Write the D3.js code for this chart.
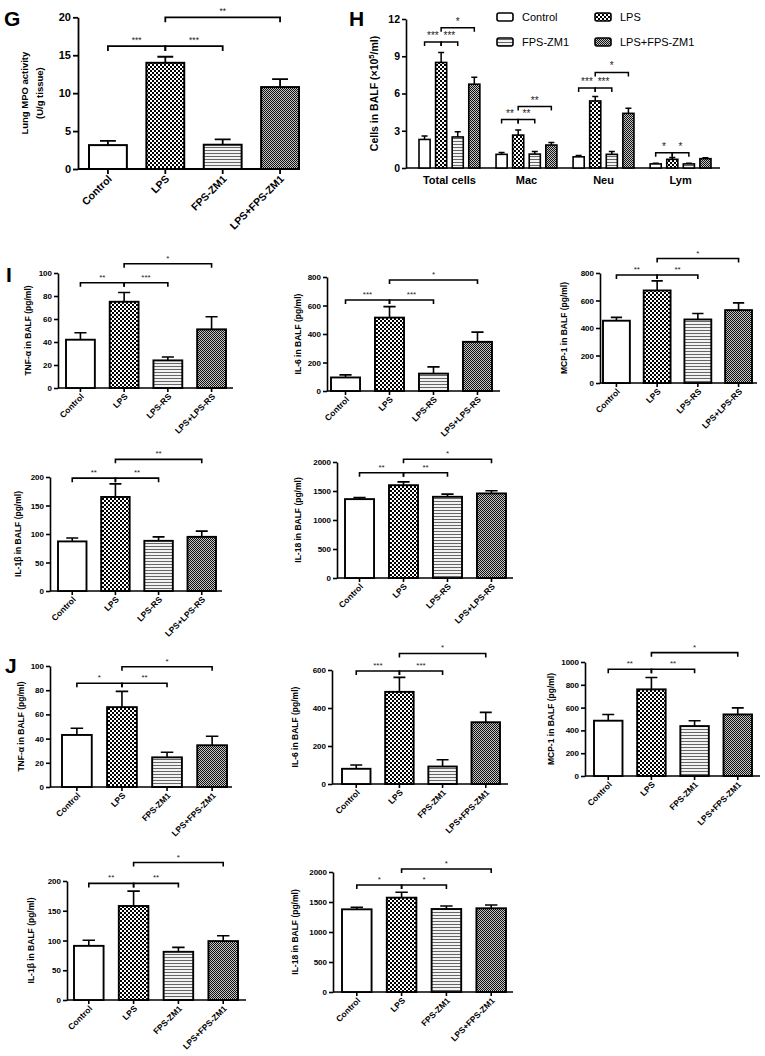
<!DOCTYPE html>
<html><head><meta charset="utf-8">
<script src="https://cdn.jsdelivr.net/npm/d3@7"></script>
<style>html,body{margin:0;padding:0;background:#fff}</style>
</head><body>
<svg id="chart" width="765" height="1056"></svg>
<script>
// ---------------- DATA ----------------
const groupsZM = ["Control", "LPS", "FPS-ZM1", "LPS+FPS-ZM1"];
const groupsRS = ["Control", "LPS", "LPS-RS", "LPS+LPS-RS"];

// G: Lung MPO activity
const mpoMean = [3.15, 14.0, 3.2, 10.8];
const mpoErr  = [0.55, 0.8, 0.7, 1.05];
const mpoSig  = [
  {from: "Control", to: "LPS", label: "***", level: 16.2},
  {from: "LPS", to: "FPS-ZM1", label: "***", level: 16.2},
  {from: "LPS", to: "LPS+FPS-ZM1", label: "**", level: 20}
];

// H: cells in BALF
const cellTypes = ["Total cells", "Mac", "Neu", "Lym"];
const cellControl    = [2.3, 1.1, 0.9, 0.33];
const cellControlErr = [0.28, 0.14, 0.1, 0.06];
const cellLPS        = [8.5, 2.65, 5.4, 0.7];
const cellLPSErr     = [0.8, 0.42, 0.36, 0.14];
const cellFPS        = [2.5, 1.12, 1.1, 0.33];
const cellFPSErr     = [0.42, 0.2, 0.22, 0.06];
const cellLPSFPS     = [6.75, 1.85, 4.4, 0.75];
const cellLPSFPSErr  = [0.55, 0.2, 0.42, 0.08];
const cellSig = [
  {group: "Total cells", from: "Control", to: "LPS", label: "***", level: 10.15},
  {group: "Total cells", from: "LPS", to: "FPS-ZM1", label: "***", level: 10.15},
  {group: "Total cells", from: "LPS", to: "LPS+FPS-ZM1", label: "*", level: 11.3},
  {group: "Mac", from: "Control", to: "LPS", label: "**", level: 3.9},
  {group: "Mac", from: "LPS", to: "FPS-ZM1", label: "**", level: 3.9},
  {group: "Mac", from: "LPS", to: "LPS+FPS-ZM1", label: "**", level: 4.95},
  {group: "Neu", from: "Control", to: "LPS", label: "***", level: 6.45},
  {group: "Neu", from: "LPS", to: "FPS-ZM1", label: "***", level: 6.45},
  {group: "Neu", from: "LPS", to: "LPS+FPS-ZM1", label: "*", level: 7.7},
  {group: "Lym", from: "Control", to: "LPS", label: "*", level: 1.22},
  {group: "Lym", from: "LPS", to: "FPS-ZM1", label: "*", level: 1.22}
];

// I: LPS-RS experiment
const tnfRSMean = [42, 75, 24, 51];
const tnfRSErr  = [6, 8, 3, 11];
const tnfRSSig  = [
  {from: "Control", to: "LPS", label: "**", level: 91.5},
  {from: "LPS", to: "LPS-RS", label: "***", level: 91.5},
  {from: "LPS", to: "LPS+LPS-RS", label: "*", level: 108}
];
const il6RSMean = [95, 515, 122, 345];
const il6RSErr  = [18, 77, 47, 68];
const il6RSSig  = [
  {from: "Control", to: "LPS", label: "***", level: 639},
  {from: "LPS", to: "LPS-RS", label: "***", level: 639},
  {from: "LPS", to: "LPS+LPS-RS", label: "*", level: 779}
];
const mcpRSMean = [453, 673, 462, 530];
const mcpRSErr  = [24, 70, 44, 53];
const mcpRSSig  = [
  {from: "Control", to: "LPS", label: "**", level: 785},
  {from: "LPS", to: "LPS-RS", label: "**", level: 785},
  {from: "LPS", to: "LPS+LPS-RS", label: "*", level: 905}
];
const il1bRSMean = [87, 165, 88, 95];
const il1bRSErr  = [6, 23, 7, 10];
const il1bRSSig  = [
  {from: "Control", to: "LPS", label: "**", level: 198},
  {from: "LPS", to: "LPS-RS", label: "**", level: 198},
  {from: "LPS", to: "LPS+LPS-RS", label: "**", level: 231}
];
const il18RSMean = [1360, 1600, 1400, 1458];
const il18RSErr  = [25, 58, 46, 46];
const il18RSSig  = [
  {from: "Control", to: "LPS", label: "**", level: 1815},
  {from: "LPS", to: "LPS-RS", label: "**", level: 1815},
  {from: "LPS", to: "LPS+LPS-RS", label: "*", level: 2047}
];

// J: FPS-ZM1 experiment
const tnfZMMean = [43, 66, 24.5, 34.5];
const tnfZMErr  = [5.5, 13, 4.2, 7.5];
const tnfZMSig  = [
  {from: "Control", to: "LPS", label: "*", level: 85.7},
  {from: "LPS", to: "FPS-ZM1", label: "**", level: 85.7},
  {from: "LPS", to: "LPS+FPS-ZM1", label: "*", level: 99.4}
];
const il6ZMMean = [80, 485, 92, 325];
const il6ZMErr  = [20, 76, 36, 52];
const il6ZMSig  = [
  {from: "Control", to: "LPS", label: "***", level: 595},
  {from: "LPS", to: "FPS-ZM1", label: "***", level: 595},
  {from: "LPS", to: "LPS+FPS-ZM1", label: "*", level: 687}
];
const mcpZMMean = [485, 760, 438, 540];
const mcpZMErr  = [55, 104, 46, 58];
const mcpZMSig  = [
  {from: "Control", to: "LPS", label: "**", level: 936},
  {from: "LPS", to: "FPS-ZM1", label: "**", level: 936},
  {from: "LPS", to: "LPS+FPS-ZM1", label: "*", level: 1082}
];
const il1bZMMean = [91, 158, 81, 99];
const il1bZMErr  = [9.5, 25, 7.4, 9];
const il1bZMSig  = [
  {from: "Control", to: "LPS", label: "**", level: 196},
  {from: "LPS", to: "FPS-ZM1", label: "**", level: 196},
  {from: "LPS", to: "LPS+FPS-ZM1", label: "*", level: 231}
];
const il18ZMMean = [1378, 1572, 1383, 1395];
const il18ZMErr  = [34, 90, 50, 55];
const il18ZMSig  = [
  {from: "Control", to: "LPS", label: "*", level: 1783},
  {from: "LPS", to: "FPS-ZM1", label: "*", level: 1783},
  {from: "LPS", to: "LPS+FPS-ZM1", label: "*", level: 2050}
];

// ---------------- DRAWING ----------------
const FONT = "'Liberation Sans', Arial, Helvetica, sans-serif";
const svg = d3.select("#chart");
svg.append("rect").attr("width", 765).attr("height", 1056).attr("fill", "#fff");

const defs = svg.append("defs");
const pChecker = defs.append("pattern").attr("id", "checker").attr("patternUnits", "userSpaceOnUse").attr("width", 4).attr("height", 4);
pChecker.append("rect").attr("width", 4).attr("height", 4).attr("fill", "#fff");
pChecker.append("rect").attr("width", 2).attr("height", 2).attr("fill", "#000");
pChecker.append("rect").attr("x", 2).attr("y", 2).attr("width", 2).attr("height", 2).attr("fill", "#000");
const pStripes = defs.append("pattern").attr("id", "stripes").attr("patternUnits", "userSpaceOnUse").attr("width", 4).attr("height", 3);
pStripes.append("rect").attr("width", 4).attr("height", 3).attr("fill", "#f2f2f2");
pStripes.append("rect").attr("width", 4).attr("height", 1).attr("fill", "#666");
const pFine = defs.append("pattern").attr("id", "fine").attr("patternUnits", "userSpaceOnUse").attr("width", 2).attr("height", 2);
pFine.append("rect").attr("width", 2).attr("height", 2).attr("fill", "#c4c4c4");
pFine.append("rect").attr("width", 1).attr("height", 1).attr("fill", "#111");
pFine.append("rect").attr("x", 1).attr("y", 1).attr("width", 1).attr("height", 1).attr("fill", "#111");

const FILLS = ["#fff", "url(#checker)", "url(#stripes)", "url(#fine)"];
const fmt = d3.format("d");

function styleYAxis(sel, sw, fs) {
  sel.select(".domain").attr("stroke", "#000").attr("stroke-width", sw);
  sel.selectAll(".tick line").attr("stroke", "#000").attr("stroke-width", sw);
  sel.selectAll(".tick text").attr("font-size", fs).attr("font-weight", "bold")
    .attr("font-family", FONT).attr("fill", "#000");
}

function drawBracket(g, x1, x2, yy, leg, label, fs, sw) {
  g.append("path").attr("d", `M${x1},${yy + leg}V${yy}H${x2}V${yy + leg}`)
    .attr("fill", "none").attr("stroke", "#000").attr("stroke-width", sw);
  g.append("text").attr("x", (x1 + x2) / 2).attr("y", yy - 3).attr("text-anchor", "middle")
    .attr("font-size", fs).attr("font-family", FONT).attr("fill", "#222").text(label);
}

function drawPanel(L, cats, means, errs, sigs, ylabel) {
  const g = svg.append("g");
  const x = d3.scaleBand().domain(cats).range([L.barL, L.barR]).paddingInner(L.pad).paddingOuter(0);
  const y = d3.scaleLinear().domain([0, L.ymax]).range([L.bottom, L.top]);
  const bw = x.bandwidth();
  const ya = g.append("g").attr("transform", `translate(${L.axisX},0)`)
    .call(d3.axisLeft(y).tickValues(d3.range(0, L.ymax + 1e-9, L.step)).tickFormat(fmt)
      .tickSize(L.tick).tickSizeOuter(0).tickPadding(2));
  styleYAxis(ya, L.sw, L.tickFont);
  // x axis line + ticks
  g.append("line").attr("x1", L.axisX).attr("x2", L.axisR).attr("y1", L.bottom).attr("y2", L.bottom)
    .attr("stroke", "#000").attr("stroke-width", L.sw);
  g.selectAll(".xt").data(cats).join("line")
    .attr("x1", d => x(d) + bw / 2).attr("x2", d => x(d) + bw / 2)
    .attr("y1", L.bottom).attr("y2", L.bottom + L.tick).attr("stroke", "#000").attr("stroke-width", L.sw);
  // error bars (upper)
  const cap = bw * 0.42;
  g.selectAll(".eb").data(cats).join("path")
    .attr("d", (d, i) => {
      const cx = x(d) + bw / 2, y0 = y(means[i]), y1 = y(means[i] + errs[i]);
      return `M${cx},${y0}V${y1}M${cx - cap / 2},${y1}H${cx + cap / 2}`;
    })
    .attr("fill", "none").attr("stroke", "#000").attr("stroke-width", L.sw);
  // bars
  g.selectAll(".bar").data(cats).join("rect")
    .attr("x", d => x(d)).attr("y", (d, i) => y(means[i]))
    .attr("width", bw).attr("height", (d, i) => y(0) - y(means[i]))
    .attr("fill", (d, i) => FILLS[i]).attr("stroke", "#000").attr("stroke-width", L.barSw);
  // significance brackets
  sigs.forEach(s => drawBracket(g, x(s.from) + bw / 2, x(s.to) + bw / 2, y(s.level), L.leg, s.label, L.starFont, L.sw));
  // x labels
  g.selectAll(".xl").data(cats).join("text")
    .attr("transform", d => `translate(${x(d) + bw / 2 + 2},${L.bottom + L.tick + 3}) rotate(-45)`)
    .attr("text-anchor", "end").attr("dy", "0.35em")
    .attr("font-size", L.xFont).attr("font-weight", "bold").attr("font-family", FONT).text(d => d);
  // y label
  const lines = Array.isArray(ylabel) ? ylabel : [ylabel];
  const t = g.append("text").attr("transform", `translate(${L.labelX},${(L.top + L.bottom) / 2}) rotate(-90)`)
    .attr("text-anchor", "middle").attr("font-size", L.yFont).attr("font-weight", "bold").attr("font-family", FONT);
  lines.forEach((ln, i) => t.append("tspan").attr("x", 0).attr("dy", i === 0 ? 0 : L.yFont * 1.55).text(ln));
}

function panelLetter(txt, px, py, fs) {
  svg.append("text").attr("x", px).attr("y", py).attr("font-size", fs).attr("font-weight", "bold")
    .attr("font-family", FONT).text(txt);
}

// ---- layouts ----
const small = {pad: 0.34, tick: 4, sw: 1.6, barSw: 1.9, leg: 4, tickFont: 8, xFont: 8.5, yFont: 8.5, starFont: 8};

panelLetter("G", 4, 26, 21);
drawPanel({pad: 0.34, tick: 5, sw: 1.8, barSw: 2, leg: 5, tickFont: 11, xFont: 10.5, yFont: 9.5, starFont: 8.5,
  axisX: 78, axisR: 298, barL: 89, barR: 299, top: 17.3, bottom: 169, ymax: 20, step: 5, labelX: 28},
  groupsZM, mpoMean, mpoErr, mpoSig, ["Lung MPO activity", "(U/g tissue)"]);

// ---- H ----
panelLetter("H", 349, 26, 21);
(function () {
  const L = {axisX: 406, axisR: 720, grpL: 419, grpR: 711, top: 19, bottom: 168, ymax: 12, step: 3, sw: 1.6};
  const g = svg.append("g");
  const x0 = d3.scaleBand().domain(cellTypes).range([L.grpL, L.grpR]).paddingInner(0.21).paddingOuter(0);
  const x1 = d3.scaleBand().domain(groupsZM).range([0, x0.bandwidth()]).paddingInner(0.33).paddingOuter(0);
  const y = d3.scaleLinear().domain([0, L.ymax]).range([L.bottom, L.top]);
  const bw = x1.bandwidth();
  const ya = g.append("g").attr("transform", `translate(${L.axisX},0)`)
    .call(d3.axisLeft(y).tickValues(d3.range(0, 12.001, 3)).tickFormat(fmt).tickSize(4).tickSizeOuter(0).tickPadding(2));
  styleYAxis(ya, L.sw, 10.5);
  g.append("line").attr("x1", L.axisX).attr("x2", L.axisR).attr("y1", L.bottom).attr("y2", L.bottom)
    .attr("stroke", "#000").attr("stroke-width", L.sw);
  const series = [
    {name: "Control", mean: cellControl, err: cellControlErr},
    {name: "LPS", mean: cellLPS, err: cellLPSErr},
    {name: "FPS-ZM1", mean: cellFPS, err: cellFPSErr},
    {name: "LPS+FPS-ZM1", mean: cellLPSFPS, err: cellLPSFPSErr}
  ];
  const items = [];
  series.forEach((s, si) => cellTypes.forEach((c, ci) => items.push({c, s: s.name, si, v: s.mean[ci], e: s.err[ci]})));
  g.selectAll(".eb").data(items).join("path")
    .attr("d", d => {
      const cx = x0(d.c) + x1(d.s) + bw / 2, ya0 = y(d.v), ya1 = y(d.v + d.e);
      return `M${cx},${ya0}V${ya1}M${cx - 3},${ya1}H${cx + 3}`;
    }).attr("fill", "none").attr("stroke", "#000").attr("stroke-width", 1.5);
  g.selectAll(".bar").data(items).join("rect")
    .attr("x", d => x0(d.c) + x1(d.s)).attr("y", d => y(d.v))
    .attr("width", bw).attr("height", d => y(0) - y(d.v))
    .attr("fill", d => FILLS[d.si]).attr("stroke", "#000").attr("stroke-width", 1.6);
  cellSig.forEach(s => drawBracket(g, x0(s.group) + x1(s.from) + bw / 2, x0(s.group) + x1(s.to) + bw / 2,
    y(s.level), 4, s.label, 10, 1.5));
  g.selectAll(".xl").data(cellTypes).join("text")
    .attr("x", d => x0(d) + x0.bandwidth() / 2).attr("y", L.bottom + 16).attr("text-anchor", "middle")
    .attr("font-size", 11).attr("font-weight", "bold").attr("font-family", FONT).text(d => d);
  const yl = g.append("text").attr("transform", `translate(378,${(L.top + L.bottom) / 2}) rotate(-90)`)
    .attr("text-anchor", "middle").attr("font-size", 10.5).attr("font-weight", "bold").attr("font-family", FONT);
  yl.append("tspan").text("Cells in BALF (×10");
  yl.append("tspan").attr("font-size", 7.5).attr("dy", -4).text("5");
  yl.append("tspan").attr("dy", 4).text("/ml)");
  // legend
  const legPos = [[497, 17], [595, 17], [497, 42], [595, 42]];
  groupsZM.forEach((n, i) => {
    const [lx, ly] = legPos[i];
    g.append("rect").attr("x", lx).attr("y", ly - 4).attr("width", 16).attr("height", 8).attr("rx", 2)
      .attr("fill", FILLS[i]).attr("stroke", "#000").attr("stroke-width", 1.6);
    g.append("text").attr("x", lx + 25).attr("y", ly + 4).attr("font-size", 11).attr("font-family", FONT).text(n);
  });
})();

// ---- I ----
panelLetter("I", 6, 282, 21);
drawPanel({...small, axisX: 58, axisR: 233, barL: 66, barR: 226, top: 273, bottom: 388, ymax: 100, step: 20, labelX: 31},
  groupsRS, tnfRSMean, tnfRSErr, tnfRSSig, "TNF-α in BALF (pg/ml)");
drawPanel({...small, axisX: 327, axisR: 500, barL: 331, barR: 492, top: 277, bottom: 391, ymax: 800, step: 200, labelX: 301},
  groupsRS, il6RSMean, il6RSErr, il6RSSig, "IL-6 in BALF (pg/ml)");
drawPanel({...small, axisX: 600, axisR: 757, barL: 603, barR: 752, top: 273, bottom: 383, ymax: 800, step: 200, labelX: 567},
  groupsRS, mcpRSMean, mcpRSErr, mcpRSSig, "MCP-1 in BALF (pg/ml)");
drawPanel({...small, axisX: 50, axisR: 222, barL: 58, barR: 216, top: 477, bottom: 591, ymax: 200, step: 50, labelX: 21},
  groupsRS, il1bRSMean, il1bRSErr, il1bRSSig, "IL-1β in BALF (pg/ml)");
drawPanel({...small, axisX: 337, axisR: 513, barL: 345, barR: 506, top: 462, bottom: 578, ymax: 2000, step: 500, labelX: 301},
  groupsRS, il18RSMean, il18RSErr, il18RSSig, "IL-18 in BALF (pg/ml)");

// ---- J ----
panelLetter("J", 5, 673, 21);
drawPanel({...small, axisX: 50, axisR: 232, barL: 62, barR: 227, top: 666, bottom: 787, ymax: 100, step: 20, labelX: 24},
  groupsZM, tnfZMMean, tnfZMErr, tnfZMSig, "TNF-α in BALF (pg/ml)");
drawPanel({...small, axisX: 332, axisR: 508, barL: 342, barR: 500, top: 670, bottom: 784, ymax: 600, step: 200, labelX: 298},
  groupsZM, il6ZMMean, il6ZMErr, il6ZMSig, "IL-6 in BALF (pg/ml)");
drawPanel({...small, axisX: 585, axisR: 760, barL: 594, barR: 752, top: 662, bottom: 776, ymax: 1000, step: 200, labelX: 554},
  groupsZM, mcpZMMean, mcpZMErr, mcpZMSig, "MCP-1 in BALF (pg/ml)");
drawPanel({...small, axisX: 67, axisR: 246, barL: 74, barR: 238, top: 881, bottom: 1000, ymax: 200, step: 50, labelX: 34},
  groupsZM, il1bZMMean, il1bZMErr, il1bZMSig, "IL-1β in BALF (pg/ml)");
drawPanel({...small, axisX: 333, axisR: 513, barL: 342, barR: 506, top: 872, bottom: 992, ymax: 2000, step: 500, labelX: 298},
  groupsZM, il18ZMMean, il18ZMErr, il18ZMSig, "IL-18 in BALF (pg/ml)");
</script>
</body></html>
